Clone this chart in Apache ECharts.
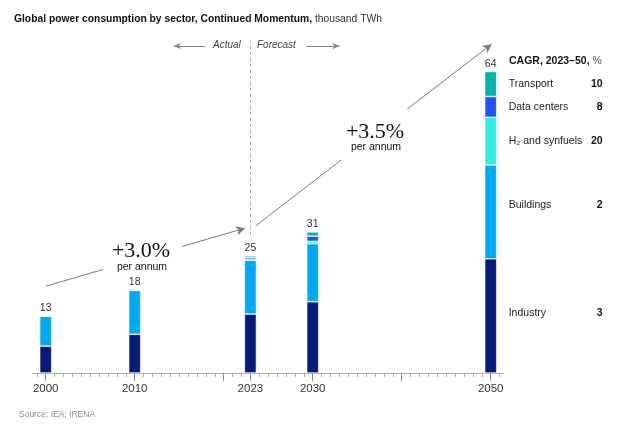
<!DOCTYPE html>
<html>
<head>
<meta charset="utf-8">
<script src="https://cdn.jsdelivr.net/npm/echarts@6/dist/echarts.min.js"></script>
<style>html,body{margin:0;padding:0;background:#fff;}#c{width:629px;height:434px;}</style>
</head>
<body>
<div id="c"></div>
<script>
// ---- data ----
const years = [2000, 2010, 2023, 2030, 2050];
const industry = [5.7, 8.2, 12.5, 15.1, 24.2];
const buildings = [6.4, 9.3, 11.4, 12.3, 19.9];
const h2 = [0, 0, 0.1, 0.5, 10.1];
const dataCenters = [0, 0, 0.4, 1.1, 4.4];
const transport = [0, 0.2, 0.4, 0.9, 5.3];
const totals = [13, 18, 25, 31, 64];
const sectorNames = ['Industry', 'Buildings', 'H\u2082 and synfuels', 'Data centers', 'Transport'];
const cagr = [3, 2, 20, 8, 10];
const axisFirstYear = 1999;
const axisLastYear = 2051;
const labelledYears = [2000, 2010, 2023, 2030, 2050];
const decadeTicks = [2000, 2010, 2020, 2023, 2030, 2040, 2050];
const growthLabels = ['+3.0%', '+3.5%'];
// trend arrows in data coordinates [year, value]
const arrow1 = [[2000.0, 18.4], [2022.4, 30.7]];
const arrow2 = [[2023.6, 31.2], [2050.1, 69.7]];
const dividerYear = 2023;
const dividerRange = [29.3, 70.4];
const actualArrow = [[2017.9, 69.3], [2014.4, 69.3]];
const forecastArrow = [[2029.3, 69.3], [2033.0, 69.3]];

const colors = ['#061a79', '#00a9f4', '#2ef0e2', '#2251ff', '#00b3a2'];
const seriesVals = [industry, buildings, h2, dataCenters, transport];
const FONT = 'Liberation Sans';
const legendOffsets = [[0, -3], [0, -7], [0, 0], [0, 0], [0, 0]];

// category list for the axis (one per year)
const cats = [];
for (let y = axisFirstYear; y <= axisLastYear; y++) cats.push(String(y));
const idxOf = y => years.indexOf(Number(y));

const series = seriesVals.map((vals, s) => ({
  name: sectorNames[s],
  type: 'bar',
  stack: 'total',
  barWidth: 12,
  xAxisIndex: 0,
  itemStyle: { color: colors[s], borderColor: '#fff', borderWidth: 0.6 },
  label: { show: false },
  emphasis: { disabled: true },
  data: cats.map(c => {
    const i = idxOf(c);
    if (i < 0) return '-';
    const item = { value: vals[i] };
    if (years[i] === 2050) {
      item.label = {
        show: true, position: 'right', distance: 12, offset: legendOffsets[s],
        formatter: () => '{n|' + sectorNames[s] + '}{v|' + cagr[s] + '}',
        rich: {
          n: { width: 80, fontSize: 10.5, color: '#222', fontFamily: FONT },
          v: { width: 14, align: 'right', fontSize: 10.5, color: '#111', fontWeight: 'bold', fontFamily: FONT }
        }
      };
    }
    return item;
  })
}));

series.push({
  name: 'totals',
  type: 'bar',
  stack: 'total',
  barWidth: 12,
  xAxisIndex: 0,
  itemStyle: { color: 'rgba(0,0,0,0)' },
  emphasis: { disabled: true },
  label: {
    show: true, position: 'top', distance: 2,
    fontSize: 10.5, color: '#333', fontFamily: FONT,
    formatter: p => String(totals[idxOf(p.name)])
  },
  data: cats.map(c => (idxOf(c) < 0 ? '-' : 0))
});

const solid = { color: '#7a7a7a', width: 1, type: 'solid' };
const thin = { color: '#888', width: 1, type: 'solid' };
series.push({
  name: 'annotations',
  type: 'line',
  xAxisIndex: 2,
  data: [],
  silent: true,
  markLine: {
    silent: true,
    animation: false,
    label: { show: false },
    emphasis: { disabled: true },
    data: [
      [{ coord: arrow1[0], symbol: 'none', lineStyle: solid }, { coord: arrow1[1], symbol: 'arrow', symbolSize: [7, 9] }],
      [{ coord: arrow2[0], symbol: 'none', lineStyle: solid }, { coord: arrow2[1], symbol: 'arrow', symbolSize: [7, 9] }],
      [{ coord: [dividerYear, dividerRange[0]], symbol: 'none', lineStyle: { color: '#aaa', width: 1, type: [3, 3] } },
       { coord: [dividerYear, dividerRange[1]], symbol: 'none' }],
      [{ coord: actualArrow[0], symbol: 'none', lineStyle: thin }, { coord: actualArrow[1], symbol: 'arrow', symbolSize: [5, 7] }],
      [{ coord: forecastArrow[0], symbol: 'none', lineStyle: thin }, { coord: forecastArrow[1], symbol: 'arrow', symbolSize: [5, 7] }]
    ]
  }
});

const chart = echarts.init(document.getElementById('c'), null, { renderer: 'canvas' });
chart.setOption({
  animation: false,
  textStyle: { fontFamily: FONT },
  grid: { left: 32.35, width: 471.7, top: 38, height: 335, containLabel: false },
  xAxis: [
    {
      type: 'category', data: cats, boundaryGap: true,
      axisLine: { show: true, lineStyle: { color: '#b0b0b0', width: 1 } },
      axisTick: { show: true, alignWithLabel: true, interval: 0, length: 4, lineStyle: { color: '#a8a8a8' } },
      axisLabel: { interval: (i, v) => labelledYears.includes(Number(v)), fontSize: 11.5, color: '#333', margin: 10, fontFamily: FONT },
      splitLine: { show: false }
    },
    {
      type: 'category', data: cats, boundaryGap: true, gridIndex: 0, position: 'bottom',
      axisLine: { show: false },
      axisTick: { show: true, alignWithLabel: true, interval: (i, v) => decadeTicks.includes(Number(v)), length: 8, lineStyle: { color: '#8a8a8a' } },
      axisLabel: { show: false },
      splitLine: { show: false }
    },
    {
      type: 'value', min: axisFirstYear - 0.5, max: axisLastYear + 0.5, gridIndex: 0, show: false
    }
  ],
  yAxis: { type: 'value', min: 0, max: 71, show: false, splitLine: { show: false } },
  series: series,
  graphic: [
    {
      type: 'text', left: 14, top: 14, z: 100,
      style: {
        text: '{b|Global power consumption by sector, Continued Momentum,}{n| thousand TWh}',
        rich: {
          b: { fontSize: 10.3, fontWeight: 'bold', fill: '#111', fontFamily: FONT },
          n: { fontSize: 10.3, fill: '#333', fontFamily: FONT }
        }
      }
    },
    { type: 'text', left: 213, top: 40, z: 100, style: { text: 'Actual', fontSize: 10, fontStyle: 'italic', fill: '#444', fontFamily: FONT } },
    { type: 'text', left: 257, top: 40, z: 100, style: { text: 'Forecast', fontSize: 10, fontStyle: 'italic', fill: '#444', fontFamily: FONT } },
    {
      type: 'text', left: 509, top: 56, z: 100,
      style: {
        text: '{b|CAGR, 2023\u201350,}{n| %}',
        rich: {
          b: { fontSize: 10.5, fontWeight: 'bold', fill: '#111', fontFamily: FONT },
          n: { fontSize: 10.5, fill: '#555', fontFamily: FONT }
        }
      }
    },
    // growth annotation 1
    { type: 'rect', shape: { x: 103, y: 239, width: 79, height: 34 }, style: { fill: '#fff' }, z: 90 },
    { type: 'text', x: 141, y: 251, z: 100, style: { text: growthLabels[0], fontSize: 22, fontFamily: 'Liberation Serif', fill: '#111', align: 'center', verticalAlign: 'middle' } },
    { type: 'text', x: 142, y: 267, z: 100, style: { text: 'per annum', fontSize: 10.5, fontFamily: FONT, fill: '#111', align: 'center', verticalAlign: 'middle' } },
    // growth annotation 2
    { type: 'rect', shape: { x: 341, y: 109, width: 68, height: 54 }, style: { fill: '#fff' }, z: 90 },
    { type: 'text', x: 375, y: 132, z: 100, style: { text: growthLabels[1], fontSize: 22, fontFamily: 'Liberation Serif', fill: '#111', align: 'center', verticalAlign: 'middle' } },
    { type: 'text', x: 376, y: 147, z: 100, style: { text: 'per annum', fontSize: 10.5, fontFamily: FONT, fill: '#111', align: 'center', verticalAlign: 'middle' } },
    { type: 'text', left: 19, top: 410, z: 100, style: { text: 'Source: IEA; IRENA', fontSize: 8.5, fill: '#8a8a8a', fontFamily: FONT } }
  ]
});
</script>
</body>
</html>
